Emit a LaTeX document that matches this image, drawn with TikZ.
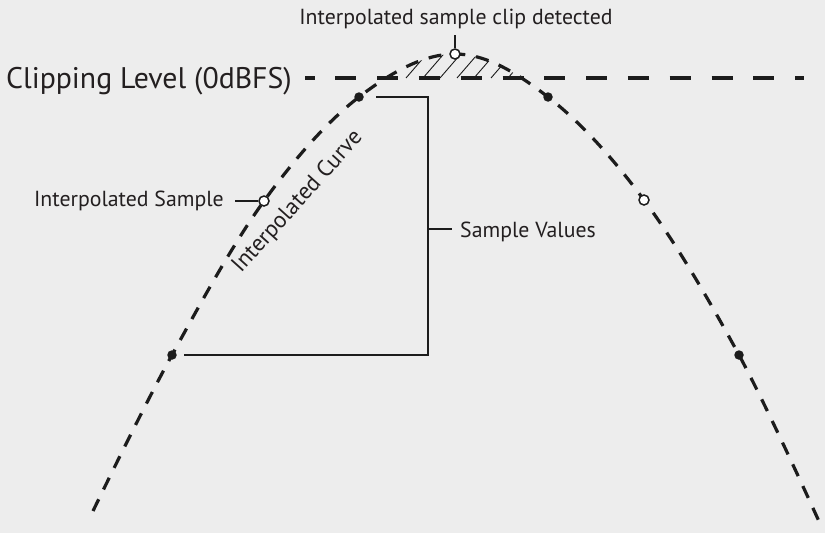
\documentclass[tikz,border=0pt]{standalone}
\usepackage{fontspec}
\setmainfont{PT Sans}
\usetikzlibrary{calc}
\definecolor{bg}{HTML}{EDEDED}
\definecolor{ink}{HTML}{1C1C1C}
\definecolor{txt}{HTML}{231F20}
\begin{document}
\begin{tikzpicture}[x=1pt,y=-1pt,
  curve/.style={ink, line width=3.2pt, dash pattern=on 13pt off 11pt},
  clipline/.style={ink, line width=3.2pt, dash pattern=on 21pt off 20.8pt, dash phase=11.5pt},
  conn/.style={ink, line width=1.4pt},
  hatchline/.style={ink, line width=0.9pt},
  sampledot/.style={circle, fill=ink, inner sep=0pt, minimum size=9.5pt},
  interpdot/.style={circle, draw=ink, fill=white, line width=1.5pt, inner sep=0pt, minimum size=10pt},
  lbl/.style={text=txt, font=\fontsize{21.8}{25}\selectfont, inner sep=0pt},
  biglbl/.style={text=txt, font=\fontsize{29.8}{34}\selectfont, inner sep=0pt},
]
% canvas
\fill[bg] (0,0) rectangle (825,533);
\useasboundingbox (0,0) rectangle (825,533);

% points of the waveform
\coordinate (cL) at (93,511);
\coordinate (p1) at (172,355);
\coordinate (q1) at (264,201);
\coordinate (p2) at (359,97);
\coordinate (q2) at (455,54);
\coordinate (p3) at (548,97);
\coordinate (q3) at (644,200);
\coordinate (p4) at (739,355);
\coordinate (cR) at (822,528);

% clipping level end points
\coordinate (clA) at (305,78);
\coordinate (clB) at (804,78);

% hatched area above the clipping level
\begin{scope}
  \clip plot[smooth, tension=0.6] coordinates {(cL) (p1) (q1) (p2) (q2) (p3) (q3) (p4) (cR)} -- cycle;
  \foreach \h in {0,...,9}
    \draw[hatchline] (372+17*\h,78) -- ++(32,-37);
\end{scope}

% clipping level
\draw[clipline] (clA) -- (clB);

% interpolated curve
\draw[curve] plot[smooth, tension=0.6] coordinates {(cL) (p1) (q1) (p2) (q2) (p3) (q3) (p4) (cR)};

% sample values bracket
\coordinate (brT) at (428,97);
\coordinate (brB) at (428,355);
\coordinate (brM) at (428,229);
\draw[conn] ($(p2)+(17,0)$) -- (brT) -- (brB) -- ($(p1)+(12,0)$);
\draw[conn] (brM) -- ++(24,0);

% samples
\node[sampledot] (s1) at (p1) {};
\node[sampledot] (s2) at (p2) {};
\node[sampledot] (s3) at (p3) {};
\node[sampledot] (s4) at (p4) {};
\node[interpdot] (i1) at (q1) {};
\node[interpdot] (i2) at (q2) {};
\node[interpdot] (i3) at (q3) {};

% leaders
\draw[conn] (i2.north) -- ++(0,-13);
\draw[conn] (i1.west) -- ++(-23,0);

% labels
\node[lbl, anchor=base] (topl) at (456,24) {Interpolated sample clip detected};
\node[biglbl, anchor=base east] (clipl) at (292,88) {Clipping Level (0dBFS)};
\node[lbl, anchor=base east] (isl) at (224,206) {Interpolated Sample};
\node[lbl, anchor=base west] (svl) at (460,237) {Sample Values};
\node[lbl, font=\fontsize{23}{26}\selectfont, rotate=48, anchor=base west] (icl) at (241,274) {Interpolated Curve};
\end{tikzpicture}
\end{document}
